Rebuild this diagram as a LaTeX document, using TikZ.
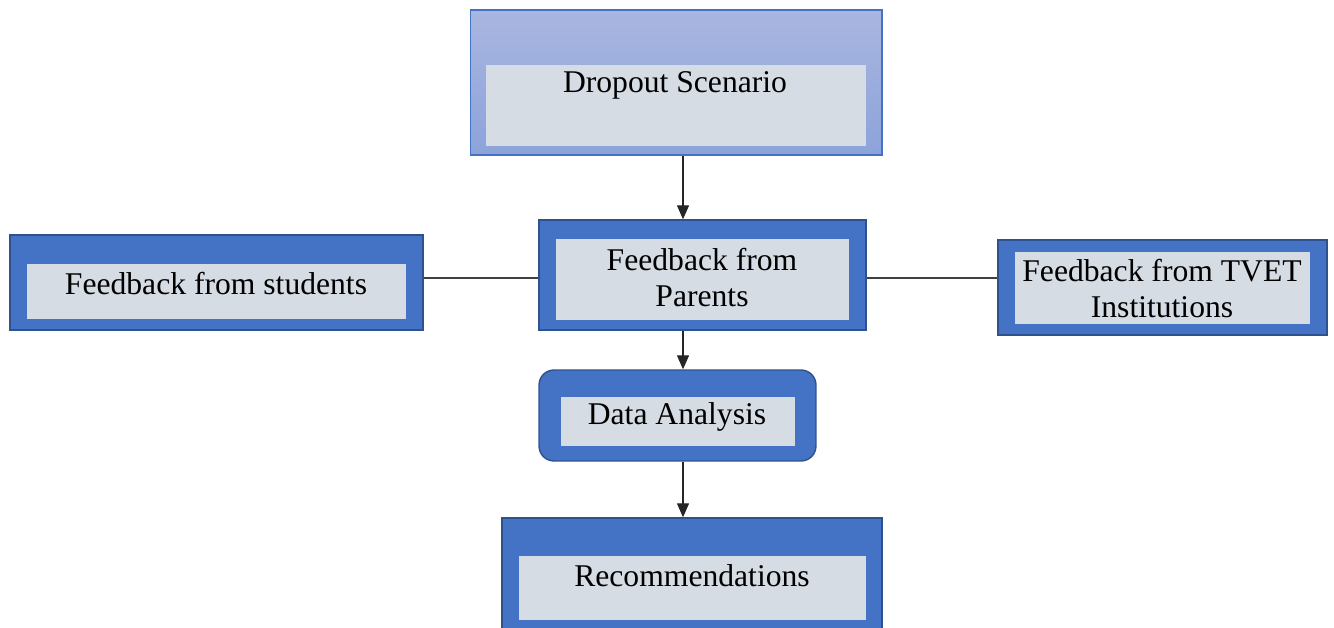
\documentclass[tikz,border=0pt]{standalone}
\usepackage{fontspec}
\setmainfont{Liberation Serif}
\usetikzlibrary{arrows.meta}
\usetikzlibrary{positioning}

\definecolor{boxblue}{HTML}{4472C4}
\definecolor{boxedge}{HTML}{2F528F}
\definecolor{boxgrey}{HTML}{D6DCE4}
\definecolor{droptop}{HTML}{A9B6E0}
\definecolor{dropbot}{HTML}{8CA3DA}

\begin{document}
\begin{tikzpicture}[x=0.02cm, y=-0.02cm,
  outerbox/.style={draw=boxedge, line width=0.8pt, fill=boxblue, inner sep=0},
  innerbox/.style={fill=boxgrey, inner sep=0},
  lbl/.style={inner sep=0, align=center, font=\fontsize{18}{20.5}\selectfont},
  arr/.style={black!85, line width=0.7pt, -{Triangle[length=0.28cm, width=0.24cm]}},
  link/.style={black!75, line width=0.7pt}]

\useasboundingbox (0,0) rectangle (1334,628);

% top box
\node[draw=boxblue, line width=0.6pt, top color=droptop, bottom color=dropbot,
  minimum width=8.24cm, minimum height=2.9cm, inner sep=0] (drop) at (676,82.5) {};
\node[innerbox, minimum width=7.6cm, minimum height=1.62cm] (drop-in) at (676,105.5) {};
\node[lbl] (drop-txt) at (675,85) {Dropout Scenario};

% middle row
\node[outerbox, minimum width=6.54cm, minimum height=2.2cm] (par) at (702.5,275) {};
\node[innerbox, minimum width=5.86cm, minimum height=1.62cm] (par-in) at (702.5,279.5) {};
\node[lbl] (par-txt) at (702,278) {Feedback from\\Parents};

\node[outerbox, minimum width=8.26cm, minimum height=1.9cm] (stud) at (216.5,282.5) {};
\node[innerbox, minimum width=7.58cm, minimum height=1.1cm] (stud-in) at (216.5,291.5) {};
\node[lbl] (stud-txt) at (216,284) {Feedback from students};

\node[outerbox, minimum width=6.58cm, minimum height=1.9cm] (tvet) at (1162.5,287.5) {};
\node[innerbox, minimum width=5.9cm, minimum height=1.44cm] (tvet-in) at (1162.5,288) {};
\node[lbl] (tvet-txt) at (1162,289) {Feedback from TVET\\Institutions};

% analysis
\node[outerbox, rounded corners=0.3cm, minimum width=5.54cm, minimum height=1.82cm] (ana) at (677.5,415.5) {};
\node[innerbox, minimum width=4.68cm, minimum height=0.98cm] (ana-in) at (678,421.5) {};
\node[lbl] (ana-txt) at (677,417) {Data Analysis};

% bottom
\node[outerbox, minimum width=7.6cm, minimum height=2.4cm] (rec) at (692,578) {};
\node[innerbox, minimum width=6.94cm, minimum height=1.28cm] (rec-in) at (692.5,588) {};
\node[lbl] (rec-txt) at (692,576) {Recommendations};

\coordinate (spine) at (683,0);
\coordinate (level) at (0,278);

\draw[arr] (drop.south -| spine) -- (par.north -| spine);
\draw[arr] (par.south -| spine) -- (ana.north -| spine);
\draw[arr] (ana.south -| spine) -- (rec.north -| spine);

\draw[link] (stud.east |- level) -- (par.west |- level);
\draw[link] (par.east |- level) -- (tvet.west |- level);
\end{tikzpicture}
\end{document}
